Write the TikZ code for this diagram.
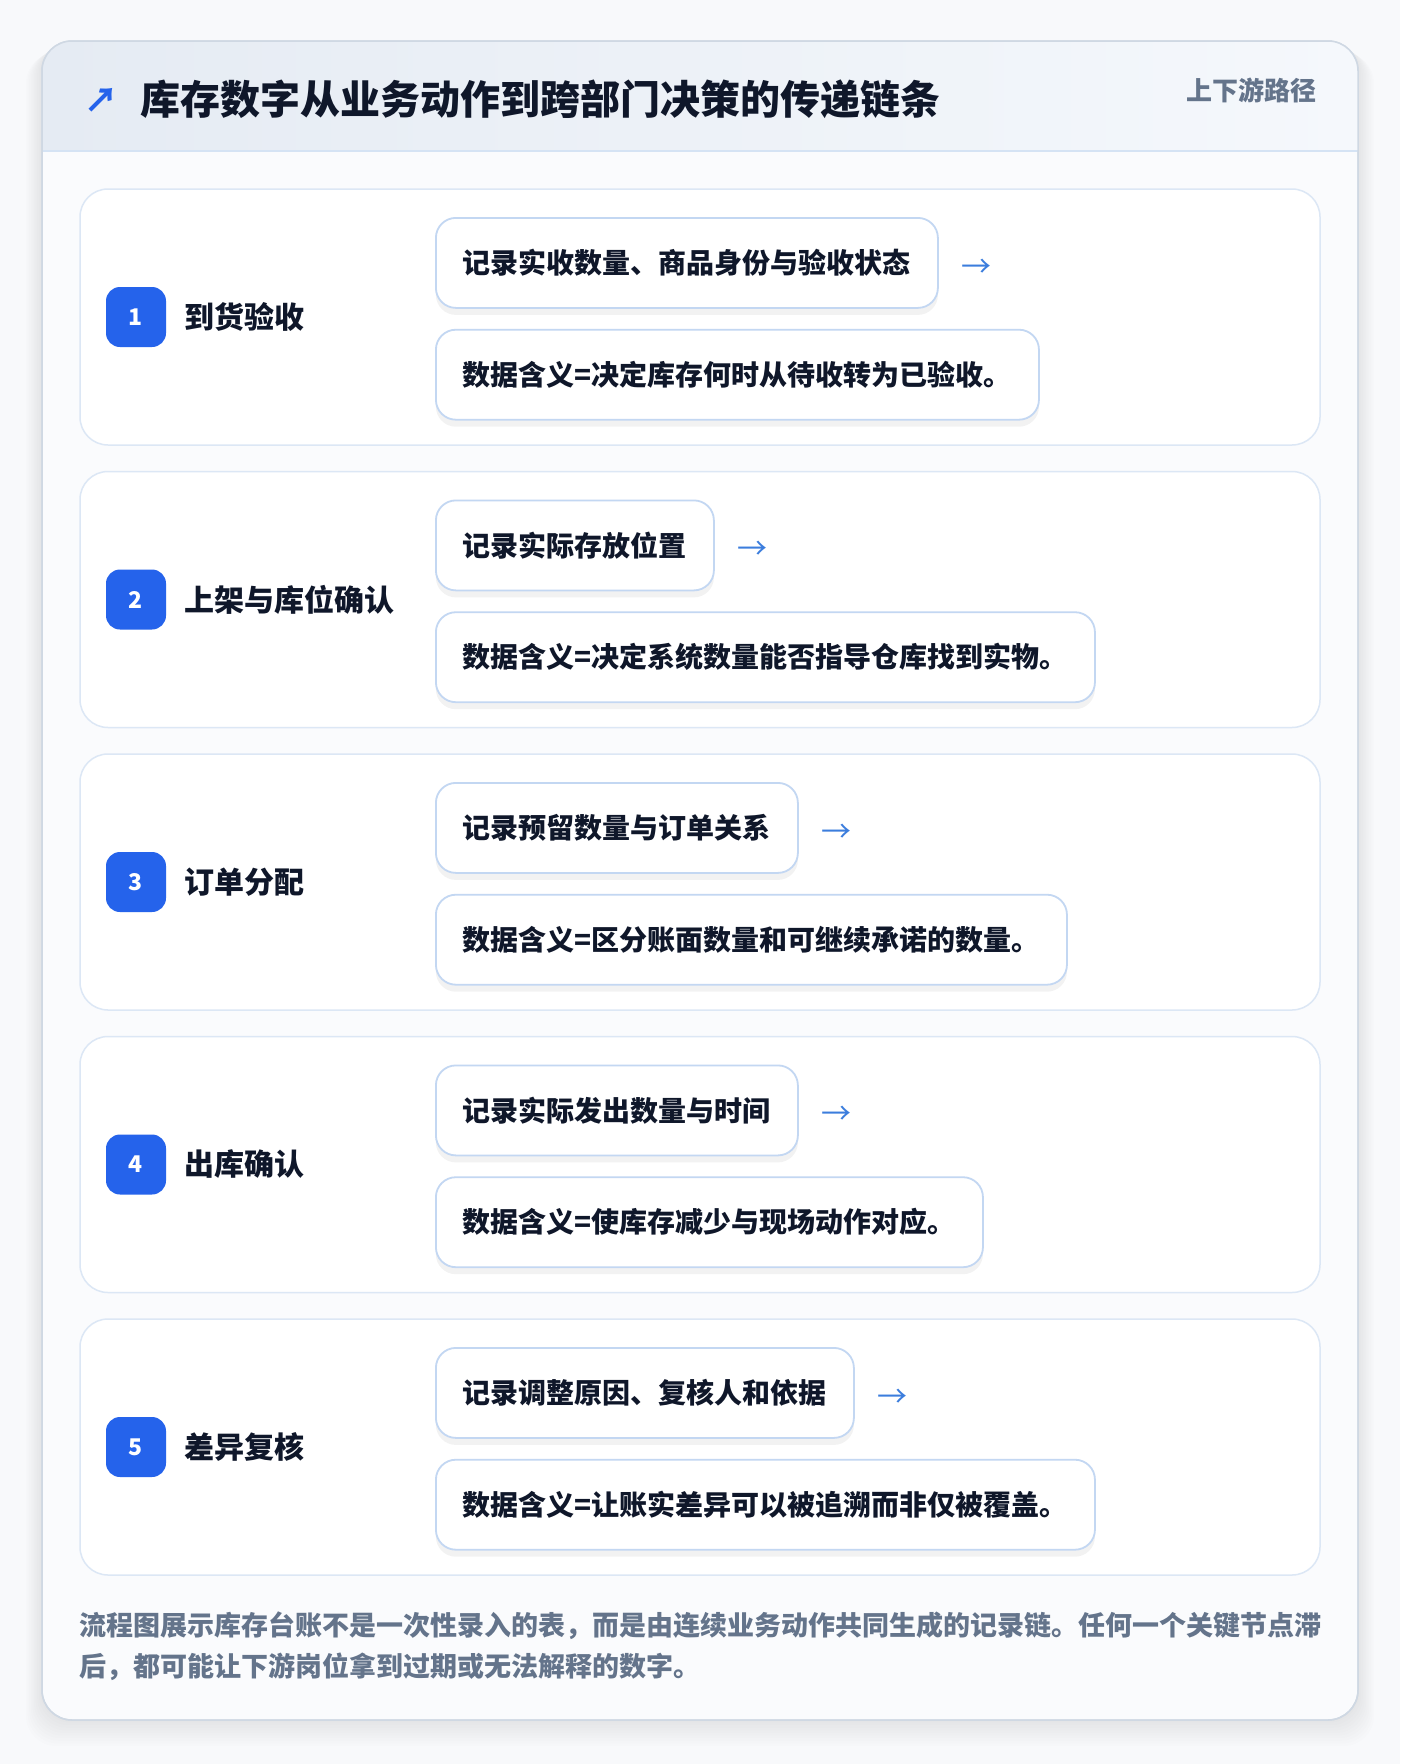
\documentclass[tikz,border=0pt]{standalone}
\usepackage{fontspec}
\setmainfont{Noto Sans CJK SC}
\newfontfamily\symfont{DejaVu Sans}
\usetikzlibrary{positioning,shadows}
\definecolor{pagebg}{HTML}{F8F9FB}
\definecolor{cardbg}{HTML}{FAFBFD}
\definecolor{cardline}{HTML}{CFD8E3}
\definecolor{headleft}{HTML}{E5EBF3}
\definecolor{headright}{HTML}{F5F8FC}
\definecolor{headline}{HTML}{D5E3F4}
\definecolor{titlecol}{HTML}{0F172A}
\definecolor{subcol}{HTML}{64748B}
\definecolor{rowline}{HTML}{DCE7F5}
\definecolor{boxline}{HTML}{C3D7F2}
\definecolor{badgecol}{HTML}{2563EB}
\definecolor{arrowcol}{HTML}{3B7DDD}

\begin{document}
\begin{tikzpicture}[x=1pt,y=-1pt,
  rowbox/.style={draw=rowline,line width=1.5pt,fill=white,rounded corners=28pt},
  badge/.style={fill=badgecol,rounded corners=14pt,minimum width=60pt,minimum height=60pt,inner sep=0pt,
    text=white,font=\bfseries\fontsize{23}{23}\selectfont},
  steplabel/.style={anchor=west,inner sep=0pt,text=titlecol,font=\bfseries\fontsize{30}{30}\selectfont},
  infobox/.style={draw=boxline,line width=1.8pt,fill=white,rounded corners=20pt,minimum height=90pt,
    inner xsep=27pt,inner ysep=0pt,text=titlecol,font=\bfseries\fontsize{28}{28}\selectfont,
    drop shadow={shadow xshift=0pt,shadow yshift=-7pt,opacity=0.05,fill=black}},
  nextarrow/.style={anchor=west,inner sep=0pt,text=arrowcol,font=\fontsize{30}{30}\selectfont}]
\useasboundingbox (0,0) rectangle (1400,1764);
\fill[pagebg] (0,0) rectangle (1400,1764);

%Card shadow
\foreach \k in {1,...,10}
  \fill[black,opacity=0.006,rounded corners=30pt] (42-\k*1.6,41+\k*1.2) rectangle (1358+\k*1.6,1720+\k*2.6);
%Card
\filldraw[fill=cardbg,draw=cardline,line width=1.5pt,rounded corners=30pt] (42,41) rectangle (1358,1720);
%Header band
\begin{scope}
  \clip[rounded corners=30pt] (42,41) rectangle (1358,1720);
  \shade[left color=headleft,right color=headright] (42,41) rectangle (1358,151);
\end{scope}
\draw[headline,line width=1.5pt] (42,151) -- (1358,151);
\draw[cardline,line width=1.5pt,rounded corners=30pt] (42,41) rectangle (1358,1720);

%Header texts
\node[anchor=west,inner sep=0pt,text=badgecol,font=\bfseries\fontsize{34}{34}\selectfont] (icon) at (84,100) {↗};
\node[anchor=west,inner sep=0pt,text=titlecol,font=\bfseries\fontsize{40}{40}\selectfont] (title) at (140,99)
  {库存数字从业务动作到跨部门决策的传递链条};
\node[anchor=east,inner sep=0pt,text=subcol,font=\bfseries\fontsize{26}{26}\selectfont] (path) at (1317,90) {上下游路径};

%Steps
\foreach \n/\name/\act/\mean in {
  1/到货验收/记录实收数量、商品身份与验收状态/数据含义=决定库存何时从待收转为已验收。,
  2/上架与库位确认/记录实际存放位置/数据含义=决定系统数量能否指导仓库找到实物。,
  3/订单分配/记录预留数量与订单关系/数据含义=区分账面数量和可继续承诺的数量。,
  4/出库确认/记录实际发出数量与时间/数据含义=使库存减少与现场动作对应。,
  5/差异复核/记录调整原因、复核人和依据/数据含义=让账实差异可以被追溯而非仅被覆盖。}{
  \pgfmathsetmacro\top{189+282.5*(\n-1)}
  \draw[rowbox] (80,\top) rectangle (1320,\top+256);
  \node[badge] (badge\n) at (136,\top+128) {\n};
  \node[steplabel,right=18pt of badge\n] (name\n) {\name};
  \node[infobox,anchor=north west] (act\n) at (435,\top+28) {\act};
  \node[infobox,below right=20pt and 0pt of act\n.south west] (mean\n) {\mean};
  \node[nextarrow,right=22pt of act\n,yshift=-5pt] (arr\n) {→};
}

%Footer note
\node[anchor=north west,inner sep=0pt,align=left,text=subcol,font=\bfseries\fontsize{27}{41}\selectfont] (note) at (79,1612)
  {流程图展示库存台账不是一次性录入的表，而是由连续业务动作共同生成的记录链。任何一个关键节点滞\\
   后，都可能让下游岗位拿到过期或无法解释的数字。};
\end{tikzpicture}
\end{document}
